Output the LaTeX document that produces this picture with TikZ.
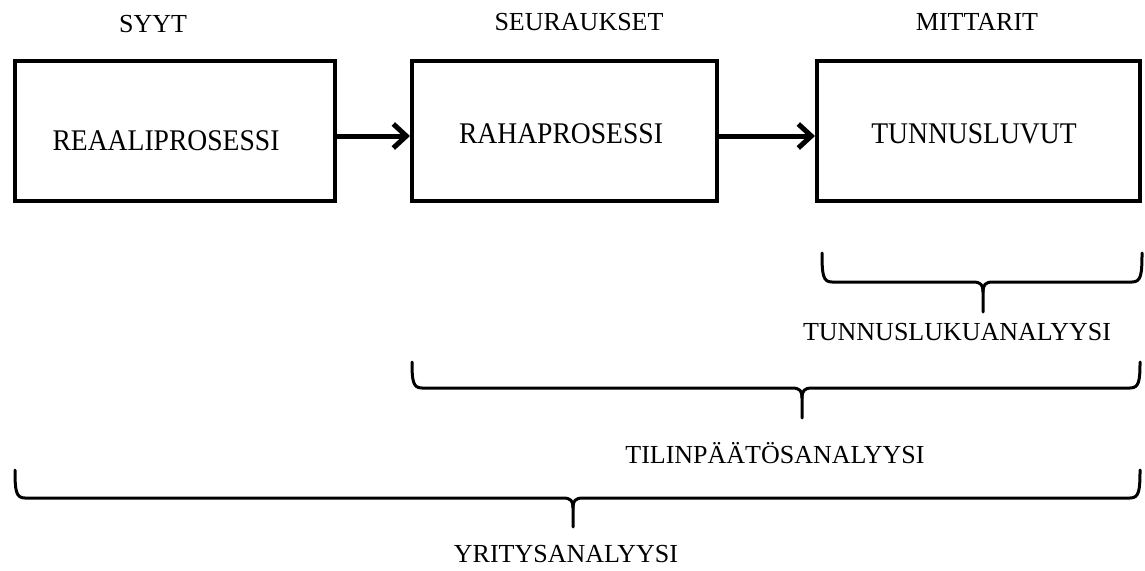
\documentclass[tikz,border=0pt]{standalone}
\usepackage{fontspec}
\setmainfont{Liberation Serif}
\usetikzlibrary{arrows.meta}
\newcommand{\condensed}[1]{\scalebox{0.92}[1]{#1}}
\begin{document}
\begin{tikzpicture}[x=1pt,y=-1pt,
  box/.style={draw,line width=4pt,minimum height=140pt,inner sep=0pt},
  head/.style={anchor=base,inner sep=0pt,font=\fontsize{26}{30}\selectfont},
  boxtext/.style={anchor=base,inner sep=0pt,font=\fontsize{30}{34}\selectfont},
  arr/.style={line width=5pt,-{Straight Barb[length=13pt,width=24pt]}},
  brace/.style={line width=3pt,line join=round,line cap=round}]
\useasboundingbox (0,0) rectangle (1145,570);
% boxes
\node[box,minimum width=320pt] (b1) at (175,131) {};
\node[box,minimum width=305pt] (b2) at (564.5,131) {};
\node[box,minimum width=323pt] (b3) at (978.5,131) {};
% headings
\node[head] (h1) at (153,32) {SYYT};
\node[head] (h2) at (579,30) {SEURAUKSET};
\node[head] (h3) at (977,30) {MITTARIT};
% box texts
\node[boxtext] (t1) at (166,150) {\condensed{REAALIPROSESSI}};
\node[boxtext] (t2) at (561,143) {\condensed{RAHAPROSESSI}};
\node[boxtext] (t3) at (974,143) {\condensed{TUNNUSLUVUT}};
% arrows
\draw[arr] ([yshift=-5pt]b1.east) -- ([yshift=-5pt]b2.west);
\draw[arr] ([yshift=-5pt]b2.east) -- ([yshift=-5pt]b3.west);
% brace 1
\draw[brace] (822,253) .. controls (822,275) and (823,282) .. (832,282) -- (973,282)
  .. controls (981,282) and (983,285) .. (983,292) -- (983,312);
\draw[brace] (1142,253) .. controls (1142,275) and (1141,282) .. (1132,282) -- (993,282)
  .. controls (985,282) and (983,285) .. (983,292);
\node[head] (l1) at (957,340) {TUNNUSLUKUANALYYSI};
% brace 2
\draw[brace] (412,362) .. controls (412,381) and (413,388) .. (422,388) -- (792,388)
  .. controls (800,388) and (802,391) .. (802,398) -- (802,418);
\draw[brace] (1140,362) .. controls (1140,381) and (1139,388) .. (1130,388) -- (812,388)
  .. controls (804,388) and (802,391) .. (802,398);
\node[head] (l2) at (775,463) {TILINPÄÄTÖSANALYYSI};
% brace 3
\draw[brace] (15,470) .. controls (15,491) and (16,498) .. (25,498) -- (563,498)
  .. controls (571,498) and (573,501) .. (573,508) -- (573,527);
\draw[brace] (1140,470) .. controls (1140,491) and (1139,498) .. (1130,498) -- (583,498)
  .. controls (575,498) and (573,501) .. (573,508);
\node[head] (l3) at (566,562) {YRITYSANALYYSI};
\end{tikzpicture}
\end{document}
